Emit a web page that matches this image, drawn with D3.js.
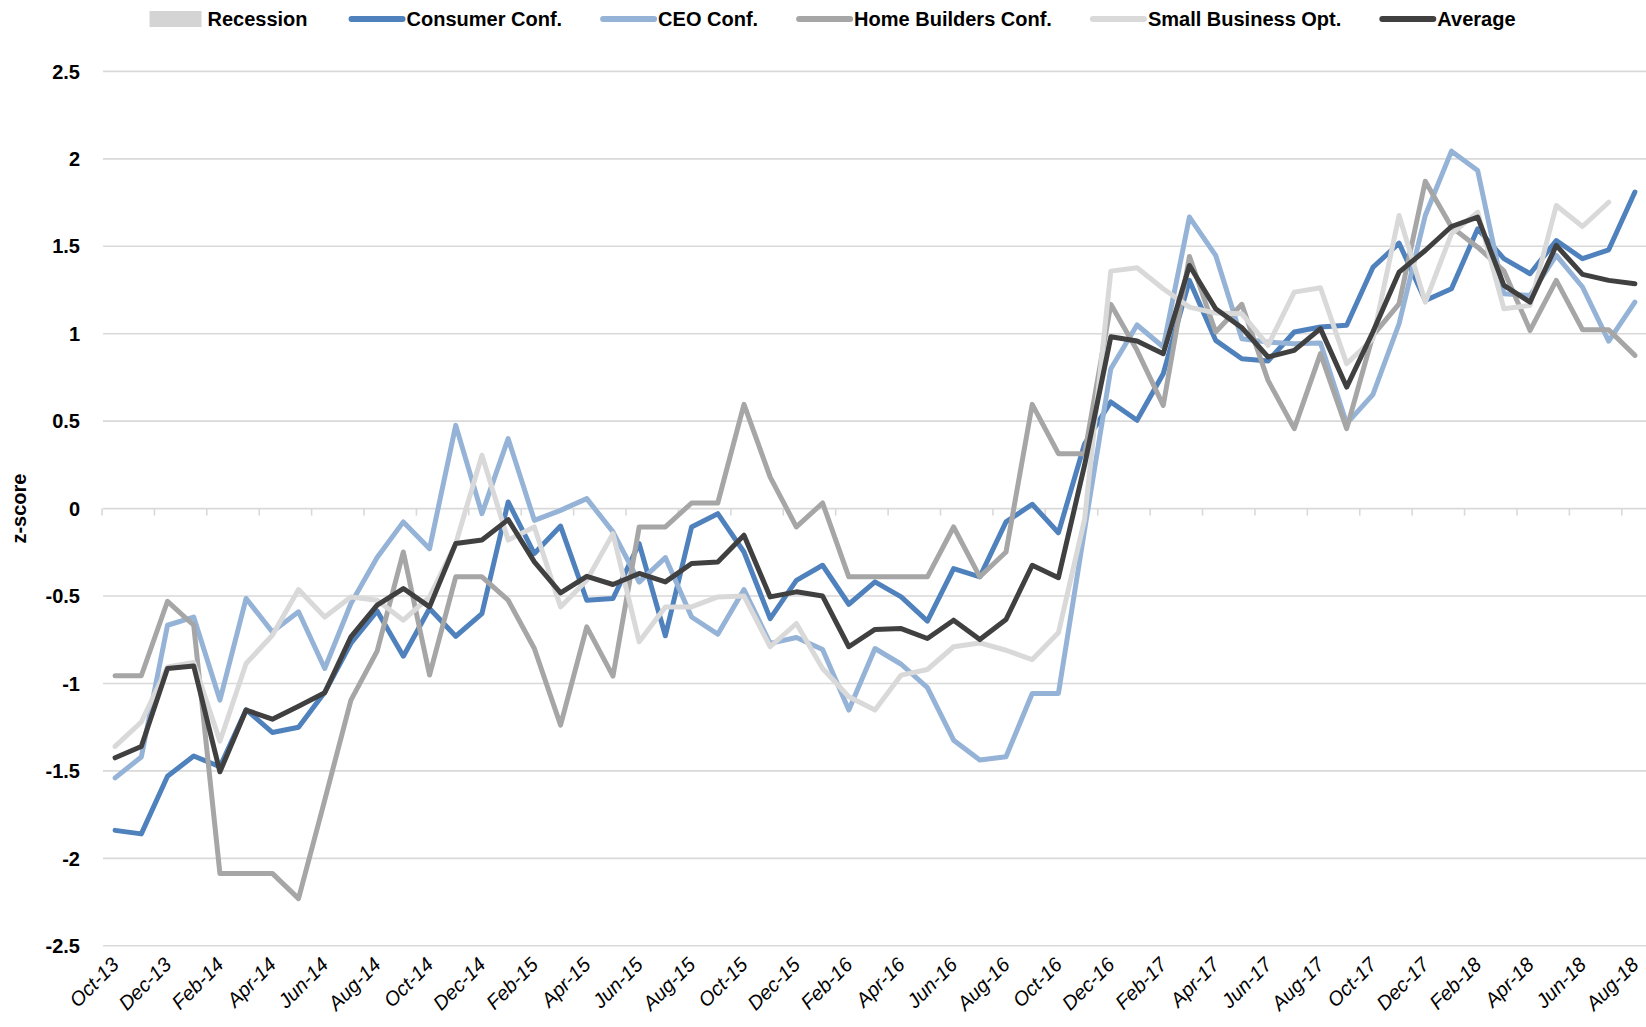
<!DOCTYPE html>
<html>
<head>
<meta charset="utf-8">
<title>Confidence z-scores</title>
<script src="https://cdn.jsdelivr.net/npm/d3@7/dist/d3.min.js"></script>
<style>
  body { margin: 0; background: #fff; }
  svg text { font-family: "Liberation Sans", Arial, sans-serif; fill: #000; }
</style>
</head>
<body>
<svg id="chart" width="1646" height="1027"></svg>
<script>
// months, Oct-13 .. Aug-18
const months = ["Oct-13","Nov-13","Dec-13","Jan-14","Feb-14","Mar-14","Apr-14","May-14","Jun-14","Jul-14","Aug-14","Sep-14",
  "Oct-14","Nov-14","Dec-14","Jan-15","Feb-15","Mar-15","Apr-15","May-15","Jun-15","Jul-15","Aug-15","Sep-15",
  "Oct-15","Nov-15","Dec-15","Jan-16","Feb-16","Mar-16","Apr-16","May-16","Jun-16","Jul-16","Aug-16","Sep-16",
  "Oct-16","Nov-16","Dec-16","Jan-17","Feb-17","Mar-17","Apr-17","May-17","Jun-17","Jul-17","Aug-17","Sep-17",
  "Oct-17","Nov-17","Dec-17","Jan-18","Feb-18","Mar-18","Apr-18","May-18","Jun-18","Jul-18","Aug-18"];

const consumerConf = [-1.84,-1.86,-1.53,-1.415,-1.476,-1.15,-1.28,-1.25,-1.05,-0.77,-0.585,-0.844,
  -0.571,-0.73,-0.60,0.038,-0.257,-0.10,-0.524,-0.514,-0.2,-0.727,-0.105,-0.029,
  -0.248,-0.629,-0.41,-0.324,-0.547,-0.419,-0.505,-0.643,-0.343,-0.39,-0.076,0.025,
  -0.138,0.371,0.61,0.505,0.771,1.305,0.962,0.857,0.844,1.01,1.038,1.048,
  1.379,1.518,1.19,1.257,1.6,1.429,1.343,1.533,1.429,1.48,1.81];

const ceoConf = [-1.54,-1.42,-0.667,-0.62,-1.095,-0.514,-0.705,-0.59,-0.914,-0.543,-0.28,-0.076,
  -0.229,0.476,-0.029,0.4,-0.067,-0.01,0.057,-0.133,-0.42,-0.28,-0.62,-0.718,
  -0.463,-0.771,-0.737,-0.806,-1.152,-0.8,-0.89,-1.024,-1.324,-1.438,-1.419,-1.057,
  -1.057,-0.12,0.80,1.05,0.924,1.667,1.448,0.971,0.952,0.943,0.947,0.486,
  0.652,1.057,1.676,2.044,1.933,1.229,1.219,1.448,1.267,0.958,1.181];

const homeBuildersConf = [-0.956,-0.956,-0.53,-0.667,-2.086,-2.086,-2.086,-2.23,-1.667,-1.095,-0.815,-0.248,
  -0.952,-0.39,-0.39,-0.524,-0.8,-1.238,-0.676,-0.958,-0.105,-0.105,0.032,0.032,
  0.596,0.18,-0.105,0.032,-0.39,-0.39,-0.39,-0.39,-0.105,-0.39,-0.248,0.596,
  0.314,0.314,1.168,0.905,0.59,1.442,1.01,1.168,0.733,0.457,0.886,0.457,
  0.99,1.171,1.872,1.61,1.495,1.36,1.019,1.305,1.023,1.023,0.876];

const smallBusinessOpt = [-1.36,-1.22,-0.905,-0.88,-1.33,-0.886,-0.724,-0.463,-0.62,-0.505,-0.524,-0.638,
  -0.505,-0.2,0.305,-0.18,-0.105,-0.562,-0.41,-0.143,-0.762,-0.562,-0.562,-0.505,
  -0.5,-0.79,-0.657,-0.914,-1.076,-1.152,-0.952,-0.92,-0.79,-0.768,-0.81,-0.863,
  -0.71,-0.06,1.358,1.377,1.257,1.152,1.118,1.114,0.933,1.238,1.263,0.829,
  0.97,1.676,1.181,1.571,1.695,1.143,1.162,1.733,1.613,1.752,null];

const average = [-1.425,-1.36,-0.914,-0.9,-1.505,-1.152,-1.204,-1.13,-1.053,-0.733,-0.552,-0.457,
  -0.562,-0.2,-0.18,-0.063,-0.305,-0.482,-0.387,-0.434,-0.371,-0.419,-0.314,-0.305,
  -0.152,-0.505,-0.476,-0.5,-0.79,-0.691,-0.686,-0.743,-0.638,-0.749,-0.634,-0.324,
  -0.395,0.25,0.983,0.958,0.886,1.39,1.143,1.034,0.867,0.905,1.029,0.695,
  1.01,1.352,1.476,1.613,1.667,1.276,1.181,1.505,1.339,1.305,1.286];

const yTicks = [2.5,2,1.5,1,0.5,0,-0.5,-1,-1.5,-2,-2.5];

const series = [
  {name: "Consumer Conf.", values: consumerConf, color: "#4f81bd"},
  {name: "CEO Conf.", values: ceoConf, color: "#95b3d7"},
  {name: "Home Builders Conf.", values: homeBuildersConf, color: "#a6a6a6"},
  {name: "Small Business Opt.", values: smallBusinessOpt, color: "#d9d9d9"},
  {name: "Average", values: average, color: "#404040"}
];

const svg = d3.select("#chart");
const W = 1646;

const x = d3.scalePoint().domain(months).range([102, 1648]).padding(0.5);
const step = x.step();
const y = d3.scaleLinear().domain([-2.5, 2.5]).range([945.8, 71.4]);

// gridlines
svg.append("g").selectAll("line").data(yTicks).join("line")
  .attr("x1", 103).attr("x2", W)
  .attr("y1", d => y(d)).attr("y2", d => y(d))
  .attr("stroke", "#d9d9d9").attr("stroke-width", 1.6);

// y tick labels
svg.append("g").selectAll("text").data(yTicks).join("text")
  .attr("x", 80).attr("y", d => y(d)).attr("dy", "0.36em")
  .attr("text-anchor", "end")
  .style("font-size", "20px").style("font-weight", "bold")
  .text(d => String(d));

// y title
svg.append("text")
  .attr("transform", `translate(26,${y(0)}) rotate(-90)`)
  .attr("text-anchor", "middle")
  .style("font-size", "20px").style("font-weight", "bold")
  .text("z-score");

// category tick marks on the zero line, every two months
const every2 = months.filter((m, i) => i % 2 === 0);
svg.append("g").selectAll("line").data(every2).join("line")
  .attr("x1", d => x(d) - step / 2).attr("x2", d => x(d) - step / 2)
  .attr("y1", y(0)).attr("y2", y(0) + 7)
  .attr("stroke", "#d9d9d9").attr("stroke-width", 1.6);

// x labels at the bottom
svg.append("g").selectAll("text").data(every2).join("text")
  .attr("transform", d => `translate(${x(d) + 5},966) rotate(-45)`)
  .attr("text-anchor", "end")
  .style("font-size", "20px").style("font-style", "italic")
  .text(d => d);

// lines
const line = d3.line()
  .defined(d => d.v !== null)
  .x(d => x(d.m)).y(d => y(d.v));

svg.append("g").selectAll("path").data(series).join("path")
  .attr("d", s => line(s.values.map((v, i) => ({m: months[i], v}))))
  .attr("fill", "none")
  .attr("stroke", s => s.color)
  .attr("stroke-width", 5)
  .attr("stroke-linejoin", "round")
  .attr("stroke-linecap", "round");

// legend
const legendItems = [{name: "Recession", color: "#d4d4d4", rect: true}].concat(series);
const lg = svg.append("g");
const items = lg.selectAll("g").data(legendItems).join("g");
items.each(function(d) {
  const g = d3.select(this);
  if (d.rect) {
    g.append("rect").attr("x", 0).attr("y", -8).attr("width", 52).attr("height", 16).attr("fill", d.color);
  } else {
    g.append("line").attr("x1", 3).attr("x2", 54).attr("y1", 0).attr("y2", 0)
      .attr("stroke", d.color).attr("stroke-width", 6).attr("stroke-linecap", "round");
  }
  g.append("text").attr("x", 58).attr("y", 0).attr("dy", "0.35em")
    .style("font-size", "20px").style("font-weight", "bold")
    .text(d.name);
});
const widths = [];
items.each(function() { widths.push(this.getBBox().width); });
const total = d3.sum(widths) + 41 * (widths.length - 1);
let cursor = 831 - total / 2;
items.attr("transform", (d, i) => {
  const t = `translate(${cursor},19)`;
  cursor += widths[i] + 41;
  return t;
});
</script>
</body>
</html>
